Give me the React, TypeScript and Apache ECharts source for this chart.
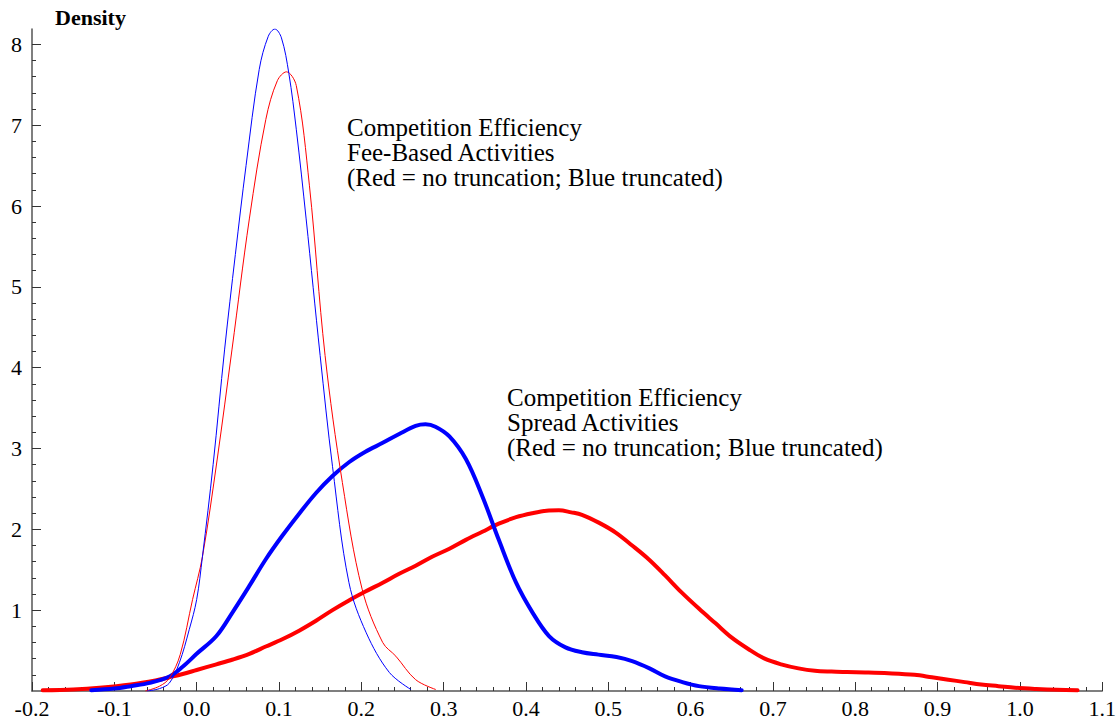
import React, { useEffect, useRef } from "react";
import * as echarts from "echarts";

// Fee-based activities, truncated (thin blue)
const feeTruncX = [-0.06, -0.045, -0.033, -0.021, -0.009, 0.0, 0.007, 0.02, 0.034, 0.047, 0.06, 0.076, 0.087, 0.095, 0.103, 0.112, 0.121, 0.133, 0.15, 0.165, 0.185, 0.206, 0.234, 0.26];
const feeTruncY = [0.0, 0.03, 0.1, 0.35, 0.76, 1.13, 1.66, 2.8, 4.23, 5.4, 6.5, 7.69, 8.1, 8.19, 8.08, 7.64, 6.95, 5.84, 4.15, 2.78, 1.34, 0.72, 0.23, 0.02];

// Fee-based activities, no truncation (thin red)
const feeX = [-0.062, -0.045, -0.033, -0.02, -0.005, 0.007, 0.025, 0.043, 0.064, 0.084, 0.098, 0.109, 0.121, 0.137, 0.156, 0.177, 0.201, 0.226, 0.242, 0.266, 0.29];
const feeY = [0.0, 0.06, 0.16, 0.45, 1.13, 1.66, 2.87, 4.23, 5.84, 7.07, 7.55, 7.66, 7.49, 6.25, 4.15, 2.58, 1.26, 0.6, 0.43, 0.14, 0.02];

// Spread activities, truncated (thick blue)
const spreadTruncX = [-0.128, -0.1, -0.08, -0.057, -0.033, -0.017, 0.0, 0.024, 0.044, 0.064, 0.084, 0.104, 0.125, 0.145, 0.165, 0.185, 0.205, 0.226, 0.246, 0.266, 0.278, 0.29, 0.307, 0.327, 0.347, 0.367, 0.388, 0.408, 0.428, 0.448, 0.468, 0.488, 0.51, 0.529, 0.55, 0.569, 0.59, 0.61, 0.635, 0.662];
const spreadTruncY = [0.01, 0.03, 0.06, 0.1, 0.18, 0.3, 0.46, 0.68, 0.98, 1.3, 1.63, 1.92, 2.2, 2.45, 2.66, 2.83, 2.96, 3.07, 3.18, 3.28, 3.3, 3.27, 3.15, 2.87, 2.41, 1.87, 1.34, 0.97, 0.68, 0.54, 0.48, 0.45, 0.42, 0.37, 0.28, 0.18, 0.11, 0.06, 0.03, 0.01];

// Spread activities, no truncation (thick red)
const spreadX = [-0.187, -0.15, -0.118, -0.08, -0.05, -0.033, -0.017, 0.0, 0.024, 0.044, 0.064, 0.084, 0.104, 0.125, 0.145, 0.165, 0.185, 0.205, 0.226, 0.246, 0.266, 0.286, 0.307, 0.327, 0.347, 0.367, 0.388, 0.408, 0.425, 0.44, 0.455, 0.468, 0.489, 0.509, 0.529, 0.549, 0.569, 0.589, 0.61, 0.63, 0.65, 0.67, 0.69, 0.71, 0.731, 0.751, 0.771, 0.79, 0.812, 0.84, 0.872, 0.893, 0.913, 0.933, 0.953, 0.974, 0.994, 1.02, 1.045, 1.07];
const spreadY = [0.01, 0.02, 0.04, 0.08, 0.13, 0.17, 0.21, 0.26, 0.33, 0.39, 0.46, 0.55, 0.64, 0.75, 0.87, 1.0, 1.12, 1.23, 1.34, 1.45, 1.55, 1.66, 1.76, 1.87, 1.97, 2.07, 2.15, 2.2, 2.23, 2.235, 2.21, 2.18, 2.08, 1.96, 1.8, 1.63, 1.43, 1.22, 1.02, 0.84, 0.66, 0.52, 0.4, 0.33, 0.28, 0.25, 0.24, 0.235, 0.23, 0.22, 0.2, 0.17, 0.14, 0.11, 0.08, 0.06, 0.04, 0.025, 0.015, 0.01];

const yMajorTicks = [1, 2, 3, 4, 5, 6, 7, 8];
const yMinorTicks = [0.2, 0.4, 0.6, 0.8, 1.2, 1.4, 1.6, 1.8, 2.2, 2.4, 2.6, 2.8, 3.2, 3.4, 3.6, 3.8, 4.2, 4.4, 4.6, 4.8, 5.2, 5.4, 5.6, 5.8, 6.2, 6.4, 6.6, 6.8, 7.2, 7.4, 7.6, 7.8];
const xMajorTicks = [-0.2, -0.1, 0.0, 0.1, 0.2, 0.3, 0.4, 0.5, 0.6, 0.7, 0.8, 0.9, 1.0, 1.1];

const noteFee = "Competition Efficiency\nFee-Based Activities\n(Red = no truncation; Blue truncated)";
const noteSpread = "Competition Efficiency\nSpread Activities\n(Red = no truncation; Blue truncated)";

const zip = (xs: number[], ys: number[]) => xs.map((x, i) => [x, ys[i]]);

const FONT = "Liberation Serif";

export default function App() {
  const ref = useRef<HTMLDivElement>(null);
  useEffect(() => {
    if (!ref.current) return;
    const chart = echarts.init(ref.current, null, { renderer: "svg" });
    const axisColor = "#555";
    const tickColor = "#333";
    const xMinorTicks: number[] = [];
    for (let i = 0; i < xMajorTicks.length - 1; i++) {
      for (let k = 1; k < 5; k++) {
        xMinorTicks.push(Math.round((xMajorTicks[i] + (k * 0.1) / 5) * 1000) / 1000);
      }
    }
    const labelStyle = { fontSize: 22, fontFamily: FONT, fontStyle: "normal", fontWeight: "normal", color: "#000" };
    const line = (data: number[][], color: string, width: number) => ({
      type: "line",
      data,
      showSymbol: false,
      symbol: "none",
      smooth: 0.35,
      lineStyle: { color, width, cap: "round", join: "round" },
      xAxisIndex: 0,
      yAxisIndex: 0,
    });
    chart.setOption({
      animation: false,
      backgroundColor: "#fff",
      textStyle: { fontFamily: FONT },
      grid: { left: 32, right: 15, top: 29, bottom: 30, containLabel: false },
      xAxis: [
        {
          type: "value",
          min: -0.2,
          max: 1.1,
          position: "bottom",
          axisLine: { show: true, onZero: false, lineStyle: { color: axisColor, width: 1.5 } },
          axisTick: { show: true, inside: true, length: 9, customValues: xMajorTicks, lineStyle: { color: tickColor } },
          axisLabel: {
            ...labelStyle,
            customValues: xMajorTicks,
            margin: 6,
            formatter: (v: number) => v.toFixed(1),
          },
          splitLine: { show: false },
        },
        {
          type: "value",
          min: -0.2,
          max: 1.1,
          position: "bottom",
          axisLine: { show: false, onZero: false },
          axisTick: { show: true, inside: true, length: 4, customValues: xMinorTicks, lineStyle: { color: tickColor } },
          axisLabel: { show: false },
          splitLine: { show: false },
        },
      ],
      yAxis: [
        {
          type: "value",
          min: 0,
          max: 8.19,
          position: "left",
          axisLine: { show: true, onZero: false, lineStyle: { color: axisColor, width: 1.5 } },
          axisTick: { show: true, inside: true, length: 9, customValues: yMajorTicks, lineStyle: { color: tickColor } },
          axisLabel: {
            ...labelStyle,
            customValues: yMajorTicks,
            margin: 10,
          },
          splitLine: { show: false },
        },
        {
          type: "value",
          min: 0,
          max: 8.19,
          position: "left",
          axisLine: { show: false, onZero: false },
          axisTick: { show: true, inside: true, length: 4, customValues: yMinorTicks, lineStyle: { color: tickColor } },
          axisLabel: { show: false },
          splitLine: { show: false },
        },
      ],
      graphic: [
        {
          type: "text",
          left: 55,
          top: 6,
          style: { text: "Density", fontFamily: FONT, fontSize: 22, fontWeight: "bold", fill: "#000" },
        },
        {
          type: "text",
          left: 347,
          top: 115,
          style: { text: noteFee, fontFamily: FONT, fontSize: 25, lineHeight: 25, fill: "#000" },
        },
        {
          type: "text",
          left: 507,
          top: 385,
          style: { text: noteSpread, fontFamily: FONT, fontSize: 25, lineHeight: 25, fill: "#000" },
        },
      ],
      series: [
        line(zip(spreadX, spreadY), "#ff0000", 4),
        line(zip(spreadTruncX, spreadTruncY), "#0000ff", 4),
        line(zip(feeX, feeY), "#ff0000", 1),
        line(zip(feeTruncX, feeTruncY), "#0000ff", 1),
      ],
    });
    return () => chart.dispose();
  }, []);
  return <div ref={ref} style={{ position: "fixed", left: 0, top: 0, width: 1119, height: 721 }} />;
}
